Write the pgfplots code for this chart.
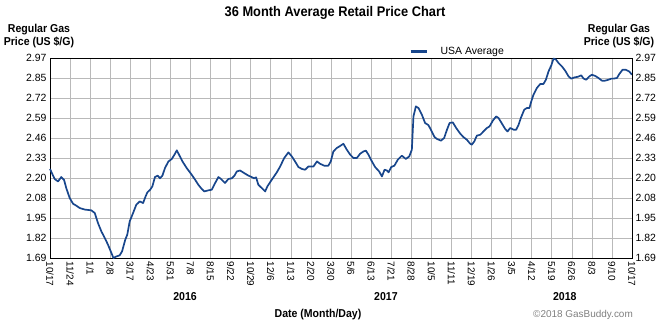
\documentclass[border=0pt]{standalone}
\usepackage{pgfplots}
\pgfplotsset{compat=1.18}
\usepackage{fontspec}
\setmainfont{Liberation Sans}
\newfontfamily\narrow[FakeStretch=0.92]{Liberation Sans}
\definecolor{gbline}{RGB}{24,70,140}
\definecolor{gbgrid}{RGB}{185,185,185}
\begin{document}
\begin{tikzpicture}
\useasboundingbox (-50bp,-70bp) rectangle (620bp,258bp);
\begin{axis}[
  at={(0,0)}, anchor=south west,
  scale only axis, width=582bp, height=200bp,
  xmin=0, xmax=29, ymin=1.69, ymax=2.97,
  clip=false,
  axis line style={black, line width=0.8pt},
  xtick={0,...,29},
  xticklabels={10/17,11/24,1/1,2/8,3/17,4/23,5/31,7/8,8/15,9/22,10/29,12/6,1/13,2/20,3/30,5/6,6/13,7/21,8/28,10/5,11/11,12/19,1/26,3/5,4/12,5/19,6/26,8/3,9/10,10/17},
  ytick={1.69,1.818,1.946,2.074,2.202,2.33,2.458,2.586,2.714,2.842,2.97},
  yticklabels={1.69,1.82,1.95,2.08,2.20,2.33,2.46,2.59,2.72,2.85,2.97},
  major tick length=0pt,
  grid=major,
  major grid style={gbgrid, line width=0.6pt},
  xticklabel style={rotate=-90, anchor=west, font=\fontsize{10}{10}\selectfont},
  yticklabel style={font=\fontsize{10.5}{11}\selectfont},
  /pgf/number format/assume math mode=true,
  legend style={at={(0.612,1)}, anchor=south west, draw=none, fill=none,
    font=\fontsize{10.5}{11}\selectfont, yshift=-2bp},
  legend cell align=left,
  legend image code/.code={\path[draw=none, fill=none] (0bp,0bp) -- (28bp,0bp);\draw[line width=2.6pt, gbline] (0bp,0bp) -- (16bp,0bp);},
]
\addplot[gbline, line width=1.7pt, line join=round] coordinates {
(0,2.26)(0.23,2.196)(0.40,2.18)(0.56,2.208)(0.70,2.19)(0.81,2.138)(0.98,2.074)(1.15,2.037)(1.31,2.025)(1.48,2.01)(1.73,2.00)(2.06,1.995)(2.23,1.978)(2.39,1.914)(2.56,1.86)(2.73,1.818)(2.89,1.775)(3.06,1.722)(3.16,1.69)(3.31,1.70)(3.47,1.707)(3.59,1.732)(3.75,1.807)(3.85,1.839)(3.97,1.924)(4.14,1.978)(4.30,2.031)(4.47,2.052)(4.64,2.042)(4.75,2.08)(4.85,2.11)(4.99,2.127)(5.10,2.148)(5.23,2.208)(5.37,2.217)(5.48,2.20)(5.60,2.217)(5.73,2.266)(5.90,2.308)(6.07,2.324)(6.20,2.351)(6.32,2.379)(6.43,2.351)(6.60,2.308)(6.81,2.266)(7.06,2.223)(7.23,2.191)(7.39,2.159)(7.56,2.132)(7.69,2.116)(7.89,2.123)(8.06,2.127)(8.23,2.17)(8.39,2.208)(8.52,2.196)(8.72,2.17)(8.89,2.196)(9.06,2.20)(9.19,2.217)(9.31,2.244)(9.47,2.25)(9.72,2.23)(9.89,2.217)(10.05,2.208)(10.17,2.20)(10.27,2.206)(10.38,2.159)(10.55,2.138)(10.72,2.116)(10.83,2.148)(11.05,2.191)(11.30,2.238)(11.47,2.276)(11.67,2.33)(11.88,2.366)(12.05,2.34)(12.21,2.308)(12.38,2.272)(12.55,2.26)(12.71,2.255)(12.88,2.276)(13.13,2.276)(13.30,2.308)(13.46,2.293)(13.66,2.281)(13.87,2.281)(13.99,2.308)(14.12,2.372)(14.29,2.394)(14.42,2.404)(14.62,2.421)(14.79,2.383)(14.96,2.351)(15.12,2.33)(15.29,2.33)(15.45,2.357)(15.62,2.372)(15.74,2.377)(15.87,2.351)(16.04,2.308)(16.20,2.272)(16.40,2.244)(16.54,2.212)(16.67,2.255)(16.79,2.25)(16.87,2.238)(17.00,2.272)(17.16,2.281)(17.33,2.319)(17.53,2.345)(17.73,2.324)(17.90,2.34)(18.03,2.383)(18.11,2.596)(18.23,2.66)(18.36,2.65)(18.53,2.607)(18.69,2.554)(18.86,2.54)(19.06,2.49)(19.16,2.464)(19.28,2.452)(19.48,2.441)(19.64,2.458)(19.78,2.511)(19.91,2.554)(20.07,2.558)(20.24,2.522)(20.44,2.486)(20.60,2.464)(20.77,2.447)(20.94,2.421)(21.02,2.415)(21.14,2.436)(21.27,2.473)(21.44,2.479)(21.60,2.50)(21.77,2.522)(21.90,2.532)(22.07,2.57)(22.23,2.596)(22.35,2.586)(22.52,2.55)(22.68,2.516)(22.80,2.50)(22.93,2.522)(23.10,2.511)(23.23,2.511)(23.35,2.543)(23.46,2.586)(23.63,2.639)(23.76,2.65)(23.89,2.65)(23.98,2.692)(24.09,2.735)(24.26,2.778)(24.43,2.804)(24.59,2.804)(24.71,2.831)(24.84,2.884)(24.98,2.923)(25.09,2.966)(25.21,2.96)(25.34,2.938)(25.51,2.916)(25.67,2.889)(25.84,2.852)(25.97,2.838)(26.14,2.846)(26.31,2.85)(26.47,2.859)(26.59,2.838)(26.72,2.831)(26.87,2.852)(27.00,2.863)(27.17,2.855)(27.33,2.842)(27.50,2.825)(27.66,2.825)(27.83,2.831)(27.97,2.838)(28.08,2.838)(28.25,2.842)(28.37,2.868)(28.53,2.895)(28.69,2.895)(28.86,2.884)(29.00,2.863)
};
\addlegendentry{USA Average}
\node[font=\narrow\bfseries\fontsize{11.5}{12}\selectfont] at (axis cs:6.73,1.69) [yshift=-39bp] {2016};
\node[font=\narrow\bfseries\fontsize{11.5}{12}\selectfont] at (axis cs:16.74,1.69) [yshift=-39bp] {2017};
\node[font=\narrow\bfseries\fontsize{11.5}{12}\selectfont] at (axis cs:25.65,1.69) [yshift=-39bp] {2018};
\end{axis}
\begin{axis}[
  at={(0,0)}, anchor=south west,
  scale only axis, width=582bp, height=200bp,
  xmin=0, xmax=29, ymin=1.69, ymax=2.97,
  axis x line=none, axis y line*=right,
  axis line style={black, line width=0.8pt},
  ytick={1.69,1.818,1.946,2.074,2.202,2.33,2.458,2.586,2.714,2.842,2.97},
  yticklabels={1.69,1.82,1.95,2.08,2.20,2.33,2.46,2.59,2.72,2.85,2.97},
  major tick length=0pt,
  yticklabel style={font=\fontsize{10.5}{11}\selectfont},
  /pgf/number format/assume math mode=true,
]
\addplot[draw=none] coordinates {(0,2)(29,2)};
\end{axis}
\node[font=\narrow\bfseries\fontsize{14}{15}\selectfont] at (285bp,245bp) {36 Month Average Retail Price Chart};
\node[font=\narrow\bfseries\fontsize{11.5}{12.4}\selectfont, align=center] at (-11bp,222bp) {Regular Gas\\Price (US \$/G)};
\node[font=\narrow\bfseries\fontsize{11.5}{12.4}\selectfont, align=center] at (569bp,222bp) {Regular Gas\\Price (US \$/G)};
\node[font=\narrow\bfseries\fontsize{11.5}{12}\selectfont] at (268bp,-57bp) {Date (Month/Day)};
\node[font=\fontsize{10}{12}\selectfont, text=gray] at (533bp,-57bp) {©2018 GasBuddy.com};
\end{tikzpicture}
\end{document}
